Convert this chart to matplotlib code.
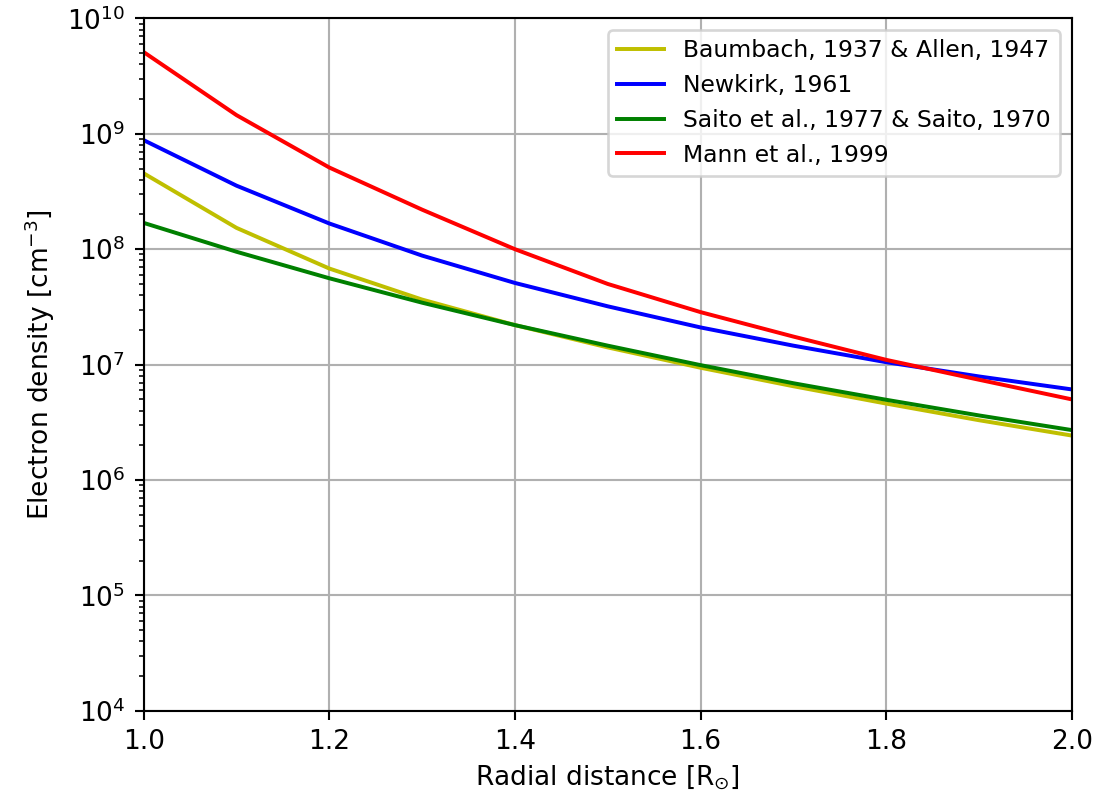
"""Coronal electron density models vs radial distance."""

import matplotlib
matplotlib.use("Agg")
import matplotlib.pyplot as plt
import numpy as np

# radial distance in solar radii
r = [1.0, 1.1, 1.2, 1.3, 1.4, 1.5, 1.6, 1.7, 1.8, 1.9, 2.0]

# electron density [cm^-3]
baumbach_allen = [4.54e8, 1.53e8, 6.8e7, 3.66e7, 2.2e7, 1.41e7, 9.4e6, 6.5e6, 4.6e6, 3.3e6, 2.43e6]
newkirk = [8.8e8, 3.55e8, 1.67e8, 8.8e7, 5.1e7, 3.2e7, 2.1e7, 1.46e7, 1.05e7, 7.9e6, 6.1e6]
saito = [1.69e8, 9.5e7, 5.6e7, 3.44e7, 2.2e7, 1.46e7, 9.9e6, 6.9e6, 4.96e6, 3.63e6, 2.71e6]
mann = [5.1e9, 1.45e9, 5.1e8, 2.2e8, 1.0e8, 5.0e7, 2.85e7, 1.75e7, 1.1e7, 7.4e6, 5.0e6]

labels = [
    "Baumbach, 1937 & Allen, 1947",
    "Newkirk, 1961",
    "Saito et al., 1977 & Saito, 1970",
    "Mann et al., 1999",
]
colors = ["y", "b", "g", "r"]


def main():
    dpi = 190
    fig = plt.figure(figsize=(1097 / dpi, 797 / dpi), dpi=dpi)
    ax = fig.add_axes([0.131, 0.108, 0.846, 0.869])

    for series, label, c in zip((baumbach_allen, newkirk, saito, mann), labels, colors):
        ax.plot(r, series, color=c, label=label)

    ax.set_yscale("log")
    ax.set_xlim(1.0, 2.0)
    ax.set_ylim(1e4, 1e10)
    ax.set_xticks(np.arange(1.0, 2.01, 0.2))
    ax.grid(True)
    ax.set_xlabel(r"Radial distance [R$_{\odot}$]", labelpad=3)
    ax.set_ylabel(r"Electron density [cm$^{-3}$]")
    ax.legend(loc="upper right", fontsize=8.9)

    fig.savefig("out.png", dpi=dpi)
    plt.close(fig)


if __name__ == "__main__":
    main()
